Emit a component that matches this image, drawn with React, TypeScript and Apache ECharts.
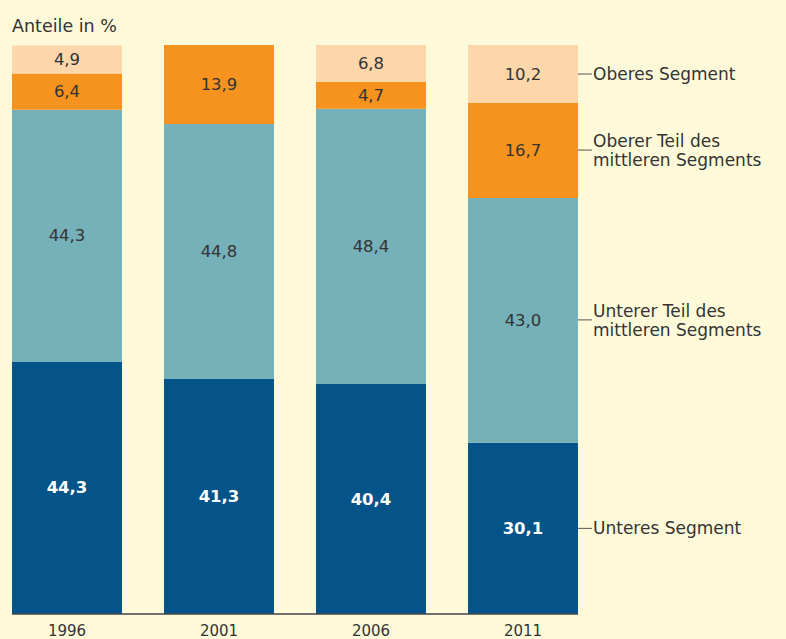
import React, { useEffect, useRef } from 'react';
import * as echarts from 'echarts';

const years = ['1996', '2001', '2006', '2011'];
const seriesNames = [
  'Unteres Segment',
  'Unterer Teil des mittleren Segments',
  'Oberer Teil des mittleren Segments',
  'Oberes Segment',
];
const unteres = [44.3, 41.3, 40.4, 30.1];
const untererMittel = [44.3, 44.8, 48.4, 43.0];
const obererMittel = [6.4, 13.9, 4.7, 16.7];
const oberes = [4.9, 0, 6.8, 10.2];
const annotationLines = [
  ['Unteres Segment'],
  ['Unterer Teil des', 'mittleren Segments'],
  ['Oberer Teil des', 'mittleren Segments'],
  ['Oberes Segment'],
];

const colors = ['#04548a', '#76b0b8', '#f6931e', '#fdd6aa'];
const labelColors = ['#ffffff', '#333333', '#333333', '#333333'];
const FONT = 'DejaVu Sans';

export default function App() {
  const ref = useRef<HTMLDivElement>(null);
  useEffect(() => {
    if (!ref.current) return;
    const chart = echarts.init(ref.current, undefined, { renderer: 'svg' });
    const data = [unteres, untererMittel, obererMittel, oberes];
    const last = years.length - 1;
    const fmt = (v: number) => v.toFixed(1).replace('.', ',');

    const mainSeries = data.map((vals, k) => ({
      name: seriesNames[k],
      type: 'bar',
      stack: 'a',
      barWidth: 110,
      barGap: '-100%',
      data: vals,
      itemStyle: { color: colors[k] },
      label: {
        show: true,
        position: 'inside',
        color: labelColors[k],
        fontFamily: FONT,
        fontSize: 16.5,
        fontWeight: k === 0 ? 'bold' : 'normal',
        formatter: (p: any) => (p.value ? fmt(p.value) : ''),
      },
    }));

    const annSeries = data.map((vals, k) => {
      const lines = annotationLines[k];
      const text =
        lines.length === 1
          ? `{tickM|}{gap|}{txt|${lines[0]}}`
          : `{tickB|}{gap|}{txt|${lines[0]}}\n{sp|}{gap|}{txt|${lines[1]}}`;
      return {
        name: seriesNames[k] + ' ',
        type: 'bar',
        stack: 'b',
        barWidth: 110,
        barGap: '-100%',
        silent: true,
        data: vals.map((v, i) => (i === last ? v : '-')),
        itemStyle: { color: 'rgba(0,0,0,0)' },
        label: {
          show: true,
          position: 'right',
          distance: 0,
          formatter: text,
          rich: {
            tickM: { width: 14, height: 1, backgroundColor: '#555555' },
            tickB: { width: 14, height: 1, backgroundColor: '#555555', verticalAlign: 'bottom' },
            sp: { width: 14, height: 1 },
            gap: { width: 1, height: 1 },
            txt: { fontFamily: FONT, fontSize: 17, color: '#333333', lineHeight: 19.5 },
          },
        },
      };
    });

    chart.setOption({
      animation: false,
      backgroundColor: '#fefad9',
      title: {
        text: 'Anteile in %',
        left: 7,
        top: 12,
        textStyle: { fontFamily: FONT, fontSize: 17.5, fontWeight: 'normal', color: '#333333' },
      },
      grid: { left: -9, top: 45, width: 608, height: 569, containLabel: false, outerBoundsMode: 'none' },
      xAxis: {
        type: 'category',
        data: years,
        axisLine: { show: false },
        axisTick: { show: false },
        axisLabel: { fontFamily: FONT, fontSize: 15, color: '#333333', margin: 9 },
      },
      yAxis: { type: 'value', min: 0, max: 100, show: false, splitLine: { show: false } },
      series: [...mainSeries, ...annSeries],
    });

    const x0 = chart.convertToPixel({ xAxisIndex: 0 }, years[0]) as number;
    const x1 = chart.convertToPixel({ xAxisIndex: 0 }, years[last]) as number;
    const y0 = chart.convertToPixel({ yAxisIndex: 0 }, 0) as number;
    chart.setOption({
      graphic: [
        {
          type: 'line',
          shape: { x1: x0 - 55, y1: y0, x2: x1 + 55, y2: y0 },
          style: { stroke: '#444444', lineWidth: 1.5 },
          z: 10,
        },
      ],
    });

    return () => chart.dispose();
  }, []);
  return (
    <div
      ref={ref}
      style={{ position: 'fixed', left: 0, top: 0, width: 786, height: 639 }}
    />
  );
}
